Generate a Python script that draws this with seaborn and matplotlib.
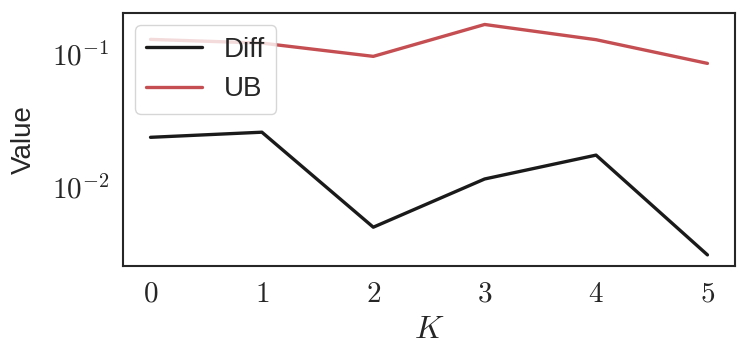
import matplotlib.pyplot as plt
import numpy as np
import pandas as pd
import seaborn as sns
from matplotlib import ticker

k_values = [0, 1, 2, 3, 4, 5]
diff_values = [0.0237, 0.0259, 0.00498, 0.0115, 0.0174, 0.00308]
ub_values = [0.1297, 0.1216, 0.0966, 0.168, 0.129, 0.0855]

sns.set_theme(style='white')
plt.rcParams['font.family'] = ['Liberation Sans', 'DejaVu Sans']
plt.rcParams['mathtext.fontset'] = 'cm'

df = pd.DataFrame({'K': k_values, 'Diff': diff_values, 'UB': ub_values})

fig, ax = plt.subplots(figsize=(7.48, 3.6), dpi=100)
fig.subplots_adjust(left=0.164, right=0.983, top=0.964, bottom=0.26)

sns.lineplot(data=df, x='K', y='Diff', color='#1a1a1a', linewidth=2.4,
             label='Diff', ax=ax)
sns.lineplot(data=df, x='K', y='UB', color='#c44e52', linewidth=2.4,
             label='UB', ax=ax)

ax.set_yscale('log')
ax.yaxis.set_major_formatter(
    ticker.FuncFormatter(lambda v, p: f'$10^{{{int(round(np.log10(v)))}}}$'))
ax.yaxis.set_minor_formatter(ticker.NullFormatter())
ax.set_xticks(k_values)
ax.set_xticklabels([f'${k}$' for k in k_values])
ax.tick_params(labelsize=21)

for s in ax.spines.values():
    s.set_color('#262626')
    s.set_linewidth(1.5)

ax.set_xlabel('$K$', fontsize=23, labelpad=5)
ax.set_ylabel('Value', fontsize=20, labelpad=11)
ax.legend(loc='upper left', fontsize=20, borderaxespad=0.45)

fig.savefig('out.png', dpi=100)
